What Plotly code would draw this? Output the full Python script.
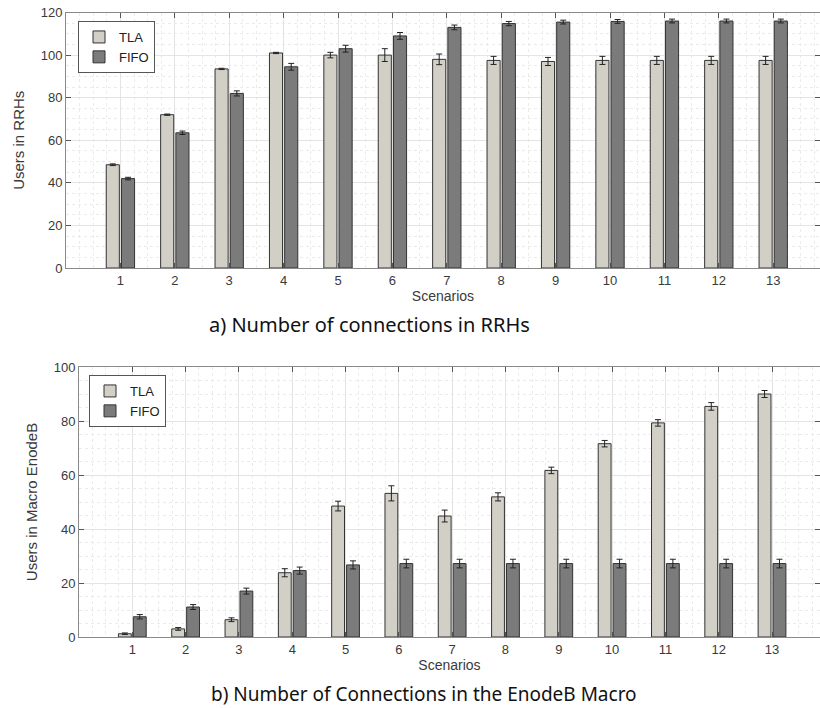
import plotly.graph_objects as go

scenarios = list(range(1, 14))

# Panel a) Users in RRHs
rrh_tla = [48.5, 72, 93.5, 101, 100, 100, 98, 97.5, 97, 97.5, 97.5, 97.5, 97.5]
rrh_tla_err = [0.4, 0.3, 0.3, 0.3, 1.3, 3.0, 2.5, 1.9, 1.9, 1.9, 1.9, 1.9, 1.9]
rrh_fifo = [42, 63.5, 82, 94.5, 103, 109, 113, 114.8, 115.5, 115.8, 116, 116, 116]
rrh_fifo_err = [0.6, 0.8, 1.2, 1.6, 1.6, 1.6, 1.1, 1.0, 0.9, 0.9, 0.9, 0.9, 0.9]

# Panel b) Users in Macro EnodeB
mac_tla = [1.2, 3.0, 6.4, 23.8, 48.5, 53.2, 44.8, 51.9, 61.7, 71.6, 79.3, 85.4, 90.0]
mac_tla_err = [0.3, 0.5, 0.7, 1.5, 1.8, 2.8, 2.2, 1.5, 1.2, 1.2, 1.2, 1.4, 1.3]
mac_fifo = [7.5, 11.1, 17.0, 24.6, 26.7, 27.2, 27.2, 27.2, 27.2, 27.2, 27.2, 27.2, 27.2]
mac_fifo_err = [0.8, 0.9, 1.1, 1.3, 1.5, 1.6, 1.6, 1.6, 1.6, 1.6, 1.6, 1.6, 1.6]

TLA_COLOR = "#d2cfc7"
FIFO_COLOR = "#7b7b7b"
W, H = 820, 708
SANS = "Liberation Sans, Arial, sans-serif"


def px(xw):
    return xw / W


def py(yw):
    return 1 - yw / H


fig = go.Figure()


def add_bar(name, y, err, color, xa, ya, legend):
    fig.add_trace(go.Bar(
        x=scenarios, y=y, name=name, marker=dict(color=color, line=dict(color="#333333", width=1)),
        error_y=dict(type="data", array=err, color="#222222", thickness=1, width=3),
        xaxis=xa, yaxis=ya, legend=legend,
    ))


add_bar("TLA", rrh_tla, rrh_tla_err, TLA_COLOR, "x", "y", "legend")
add_bar("FIFO", rrh_fifo, rrh_fifo_err, FIFO_COLOR, "x", "y", "legend")
add_bar("TLA", mac_tla, mac_tla_err, TLA_COLOR, "x2", "y2", "legend2")
add_bar("FIFO", mac_fifo, mac_fifo_err, FIFO_COLOR, "x2", "y2", "legend2")

tickfont = dict(family=SANS, size=13, color="#3a3a3a")
common_x = dict(
    tickmode="array", tickvals=scenarios, ticktext=[str(s) for s in scenarios],
    showline=True, linecolor="#8a8a8a", mirror="ticks", ticks="inside", ticklen=5,
    tickcolor="#555555", showgrid=True, gridcolor="#e4e4e4", gridwidth=1,
    minor=dict(dtick=0.25, showgrid=True, gridcolor="#ebebeb", griddash="dot", ticks=""),
    tickfont=tickfont, zeroline=False, automargin=False,
    title=dict(text="Scenarios", font=dict(family=SANS, size=14, color="#3a3a3a"), standoff=0),
)
common_y = dict(
    showline=True, linecolor="#8a8a8a", mirror="ticks", ticks="inside", ticklen=5,
    tickcolor="#555555", showgrid=True, gridcolor="#e4e4e4", gridwidth=1,
    minor=dict(dtick=5, showgrid=True, gridcolor="#ebebeb", griddash="dot", ticks=""),
    tickfont=tickfont, zeroline=False, automargin=False,
)

legend_style = dict(xanchor="left", yanchor="top", bgcolor="white",
                    bordercolor="#555555", borderwidth=1,
                    font=dict(family=SANS, size=13, color="#222222"),
                    itemwidth=30, tracegroupgap=0)

fig.update_layout(
    width=W, height=H, margin=dict(l=0, r=0, t=0, b=0, autoexpand=False),
    paper_bgcolor="white", plot_bgcolor="white",
    barmode="group", bargap=0.44, bargroupgap=0.14,
    xaxis=dict(common_x, domain=[px(66), 1], range=[0, 13.86], anchor="y"),
    yaxis=dict(common_y, domain=[py(268), py(12.5)], range=[0, 120], dtick=20, anchor="x",
               title=dict(text="Users in RRHs", font=dict(family=SANS, size=15, color="#3a3a3a"), standoff=12)),
    xaxis2=dict(common_x, domain=[px(79), 1], range=[0, 13.9], anchor="y2"),
    yaxis2=dict(common_y, domain=[py(637), py(367)], range=[0, 100], dtick=20, anchor="x2",
                title=dict(text="Users in Macro EnodeB", font=dict(family=SANS, size=15, color="#3a3a3a"), standoff=12)),
    legend=dict(legend_style, x=px(78), y=py(21)),
    legend2=dict(legend_style, x=px(89), y=py(375)),
    annotations=[
        dict(text="a) Number of connections in RRHs", xref="paper", yref="paper", x=px(369), y=py(324),
             showarrow=False, xanchor="center", yanchor="middle",
             font=dict(family="Noto Sans, sans-serif", size=20, color="#111111")),
        dict(text="b) Number of Connections in the EnodeB Macro", xref="paper", yref="paper", x=px(424), y=py(694),
             showarrow=False, xanchor="center", yanchor="middle",
             font=dict(family="Noto Sans, sans-serif", size=19, color="#111111")),
    ],
)

fig.write_html("out.html", config={"displayModeBar": False},
               post_script="document.body.style.margin='0px';")
